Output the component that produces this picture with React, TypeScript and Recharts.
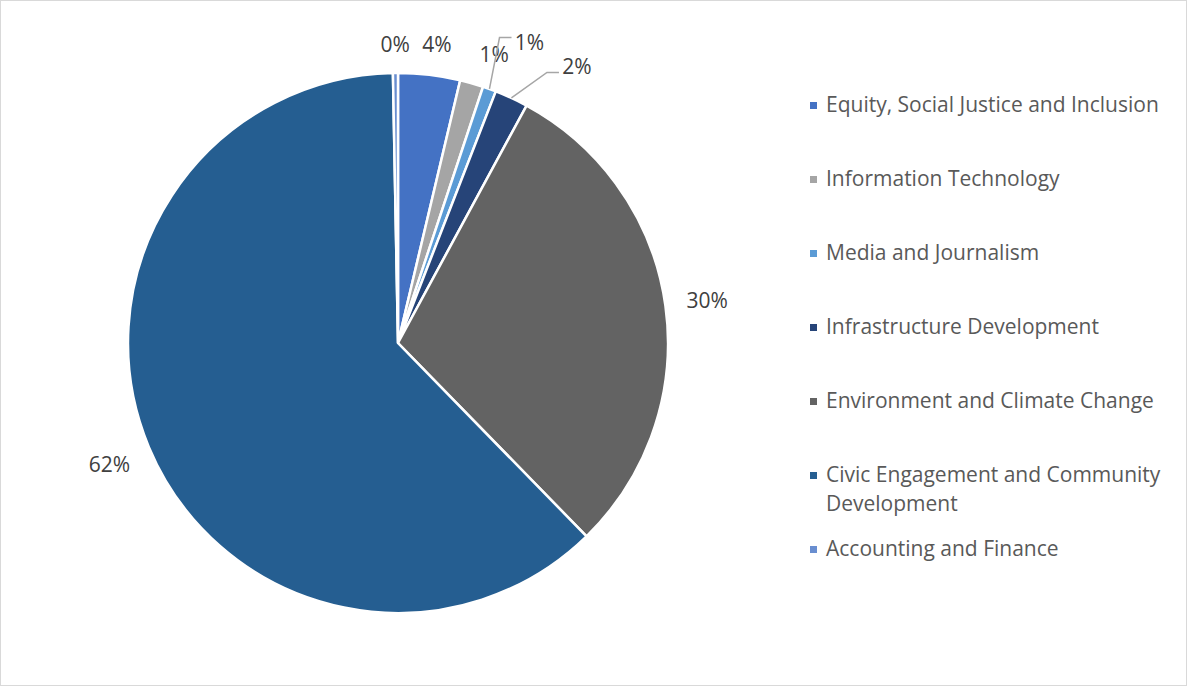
import React from 'react';
import { PieChart, Pie, Cell, Legend } from 'recharts';

const CATEGORIES = [
  'Equity, Social Justice and Inclusion',
  'Information Technology',
  'Media and Journalism',
  'Infrastructure Development',
  'Environment and Climate Change',
  'Civic Engagement and Community Development',
  'Accounting and Finance',
];
const SHARES = [3.7, 1.4, 0.8, 2.0, 29.8, 62.0, 0.3];
const COLORS = ['#4472C4', '#A5A5A5', '#5B9BD5', '#264478', '#636363', '#255E91', '#698ED0'];

const data = CATEGORIES.map((name, i) => ({ name, value: SHARES[i] }));

const FONT = '"Open Sans", sans-serif';
const RAD = Math.PI / 180;

// small slices at the top get nudged away from each other, two of them with a leader line
const NUDGE: Record<number, { dx: number; dy: number; leader?: number }> = {
  0: { dx: 4, dy: 0 },
  1: { dx: 13, dy: 4 },
  2: { dx: 28, dy: -13, leader: -5 },
  3: { dx: 50, dy: 2, leader: 6 },
};

const renderLabel = (props: any) => {
  const { cx, cy, midAngle, outerRadius, percent, index } = props;
  const c = Math.cos(-midAngle * RAD);
  const s = Math.sin(-midAngle * RAD);
  const d = outerRadius + 20 + Math.abs(c) * 21 + Math.abs(s) * 9;
  const n = NUDGE[index] || { dx: 0, dy: 0 };
  const x = cx + d * c + n.dx;
  const y = cy + d * s + n.dy;
  const text = `${Math.round(percent * 100)}%`;
  let leader = null;
  if (n.leader !== undefined) {
    const sx = cx + outerRadius * c;
    const sy = cy + outerRadius * s;
    const ex = x - 18;
    const ey = y + n.leader;
    leader = (
      <polyline
        points={`${sx},${sy} ${ex - 12},${ey} ${ex},${ey}`}
        fill="none"
        stroke="#A6A6A6"
        strokeWidth={1.5}
      />
    );
  }
  return (
    <g key={`lbl-${index}`}>
      {leader}
      <text
        x={x}
        y={y}
        textAnchor="middle"
        dominantBaseline="central"
        fill="#404040"
        fontSize={21}
        fontFamily={FONT}
      >
        {text}
      </text>
    </g>
  );
};

const renderLegend = () => (
  <div style={{ fontFamily: FONT, fontSize: 21, color: '#595959' }}>
    {CATEGORIES.map((name, i) => (
      <div key={name} style={{ height: 74, display: 'flex', alignItems: 'flex-start' }}>
        <span
          style={{
            width: 7,
            height: 7,
            background: COLORS[i],
            marginTop: 12,
            marginRight: 9,
            flexShrink: 0,
          }}
        />
        <span style={{ lineHeight: '29px', width: 345 }}>{name}</span>
      </div>
    ))}
  </div>
);

export default function App() {
  return (
    <div
      style={{
        position: 'fixed',
        left: 0,
        top: 0,
        width: 1185,
        height: 684,
        background: '#fff',
        border: '1px solid #D9D9D9',
      }}
    >
      <PieChart width={1185} height={684} margin={{ top: 0, right: 0, bottom: 0, left: 0 }}>
        <Pie
          data={data}
          dataKey="value"
          nameKey="name"
          cx={397}
          cy={342}
          outerRadius={270}
          startAngle={90}
          endAngle={-270}
          stroke="#fff"
          strokeWidth={2.5}
          label={renderLabel}
          labelLine={false}
          isAnimationActive={false}
        >
          {data.map((d, i) => (
            <Cell key={d.name} fill={COLORS[i]} />
          ))}
        </Pie>
        <Legend
          content={renderLegend}
          wrapperStyle={{ left: 809, top: 89, width: 370 }}
        />
      </PieChart>
    </div>
  );
}
